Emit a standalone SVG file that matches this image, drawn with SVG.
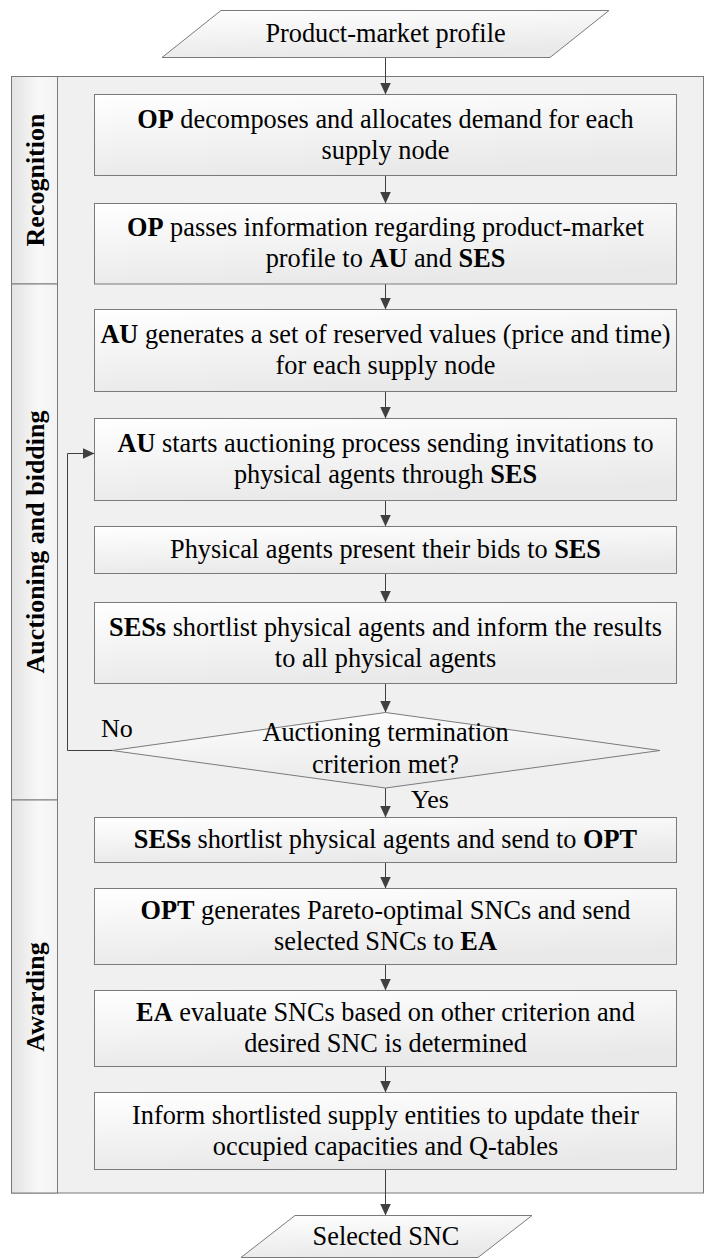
<svg xmlns="http://www.w3.org/2000/svg" width="704" height="1259" viewBox="0 0 704 1259" font-family="'Liberation Serif', 'Times New Roman', Tinos, 'DejaVu Serif', serif">
  <defs>
    <linearGradient id="gBox" x1="0" y1="0" x2="0.3" y2="1">
      <stop offset="0" stop-color="#ffffff"/>
      <stop offset="1" stop-color="#e9e9e9"/>
    </linearGradient>
    <linearGradient id="gLane" x1="0" y1="0" x2="1" y2="0">
      <stop offset="0" stop-color="#e3e3e3"/>
      <stop offset="0.6" stop-color="#f8f8f8"/>
      <stop offset="1" stop-color="#f3f3f3"/>
    </linearGradient>
    <marker id="arr" markerUnits="userSpaceOnUse" markerWidth="12" markerHeight="11" viewBox="0 0 12 11" refX="12" refY="5.5" orient="auto">
      <path d="M0,0 L12,5.5 L0,11 z" fill="#404040"/>
    </marker>
    <style>
      .box { fill: url(#gBox); stroke: #7a7a7a; stroke-width: 1; }
      .lane { fill: #f0f0f0; stroke: #7a7a7a; stroke-width: 1; }
      .lanecell { fill: url(#gLane); stroke: #7a7a7a; stroke-width: 1; }
      .t { font-size: 26.3px; fill: #000; text-anchor: middle; }
      .b { font-weight: bold; }
      .lbl { font-size: 26px; font-weight: bold; fill: #000; text-anchor: middle; }
      .lt { font-size: 26px; fill: #000; }
      .conn { stroke: #404040; stroke-width: 1; fill: none; marker-end: url(#arr); }
    </style>
  </defs>

  <!-- swimlane frame -->
  <g id="lanes">
    <rect class="lane" x="11.5" y="76.5" width="692" height="1116.5"/>
    <rect class="lanecell" x="11.5" y="76.5" width="46" height="207.5"/>
    <rect class="lanecell" x="11.5" y="284" width="46" height="516"/>
    <rect class="lanecell" x="11.5" y="800" width="46" height="393"/>
    <text class="lbl" transform="translate(44,180) rotate(-90)">Recognition</text>
    <text class="lbl" transform="translate(44,542) rotate(-90)">Auctioning and bidding</text>
    <text class="lbl" transform="translate(44,997) rotate(-90)">Awarding</text>
  </g>

  <!-- connectors -->
  <g id="connectors">
    <path class="conn" d="M385.5,57.5 V94.5"/>
    <path class="conn" d="M385.5,175.5 V203.5"/>
    <path class="conn" d="M385.5,284 V309.5"/>
    <path class="conn" d="M385.5,391.5 V418.5"/>
    <path class="conn" d="M385.5,500.5 V526.5"/>
    <path class="conn" d="M385.5,573.5 V602.5"/>
    <path class="conn" d="M385.5,683.5 V712.5"/>
    <path class="conn" d="M385.5,788 V817.5"/>
    <path class="conn" d="M385.5,862.5 V888.5"/>
    <path class="conn" d="M385.5,964.5 V990.5"/>
    <path class="conn" d="M385.5,1066.5 V1092.5"/>
    <path class="conn" d="M385.5,1169.5 V1215.5"/>
    <path class="conn" d="M112,750.5 H67.5 V453.5 H94.5"/>
    <text class="lt" x="101" y="737">No</text>
    <text class="lt" x="411" y="808">Yes</text>
  </g>

  <g id="input">
    <polygon class="box" points="221,10.5 609,10.5 550,57.5 162,57.5"/>
    <text class="t" x="385.5" y="42">Product-market profile</text>
  </g>

  <g id="step1">
    <rect class="box" x="94.5" y="94.5" width="582" height="81"/>
    <text class="t" x="385.5" y="128"><tspan class="b">OP</tspan> decomposes and allocates demand for each</text>
    <text class="t" x="385.5" y="159">supply node</text>
  </g>

  <g id="step2">
    <rect class="box" x="94.5" y="203.5" width="582" height="80.5"/>
    <text class="t" x="385.5" y="236"><tspan class="b">OP</tspan> passes information regarding product-market</text>
    <text class="t" x="385.5" y="267">profile to <tspan class="b">AU</tspan> and <tspan class="b">SES</tspan></text>
  </g>

  <g id="step3">
    <rect class="box" x="94.5" y="309.5" width="582" height="82"/>
    <text class="t" x="385.5" y="343"><tspan class="b">AU</tspan> generates a set of reserved values (price and time)</text>
    <text class="t" x="385.5" y="374">for each supply node</text>
  </g>

  <g id="step4">
    <rect class="box" x="94.5" y="418.5" width="582" height="82"/>
    <text class="t" x="385.5" y="452"><tspan class="b">AU</tspan> starts auctioning process sending invitations to</text>
    <text class="t" x="385.5" y="483">physical agents through <tspan class="b">SES</tspan></text>
  </g>

  <g id="step5">
    <rect class="box" x="94.5" y="526.5" width="582" height="47"/>
    <text class="t" x="385.5" y="558">Physical agents present their bids to <tspan class="b">SES</tspan></text>
  </g>

  <g id="step6">
    <rect class="box" x="94.5" y="602.5" width="582" height="81"/>
    <text class="t" x="385.5" y="636"><tspan class="b">SESs</tspan> shortlist physical agents and inform the results</text>
    <text class="t" x="385.5" y="667">to all physical agents</text>
  </g>

  <g id="decision">
    <polygon class="box" points="112,750.5 385.5,712.5 660,750.5 385.5,788"/>
    <text class="t" x="385.5" y="741">Auctioning termination</text>
    <text class="t" x="385.5" y="773">criterion met?</text>
  </g>

  <g id="step7">
    <rect class="box" x="94.5" y="817.5" width="582" height="45"/>
    <text class="t" x="385.5" y="848"><tspan class="b">SESs</tspan> shortlist physical agents and send to <tspan class="b">OPT</tspan></text>
  </g>

  <g id="step8">
    <rect class="box" x="94.5" y="888.5" width="582" height="76"/>
    <text class="t" x="385.5" y="919"><tspan class="b">OPT</tspan> generates Pareto-optimal SNCs and send</text>
    <text class="t" x="385.5" y="950">selected SNCs to <tspan class="b">EA</tspan></text>
  </g>

  <g id="step9">
    <rect class="box" x="94.5" y="990.5" width="582" height="76"/>
    <text class="t" x="385.5" y="1021"><tspan class="b">EA</tspan> evaluate SNCs based on other criterion and</text>
    <text class="t" x="385.5" y="1052">desired SNC is determined</text>
  </g>

  <g id="step10">
    <rect class="box" x="94.5" y="1092.5" width="582" height="77"/>
    <text class="t" x="385.5" y="1123.5">Inform shortlisted supply entities to update their</text>
    <text class="t" x="385.5" y="1154.5">occupied capacities and Q-tables</text>
  </g>

  <g id="output">
    <polygon class="box" points="295,1215.5 532,1215.5 478,1257.5 241,1257.5"/>
    <text class="t" x="386" y="1245">Selected SNC</text>
  </g>
</svg>
